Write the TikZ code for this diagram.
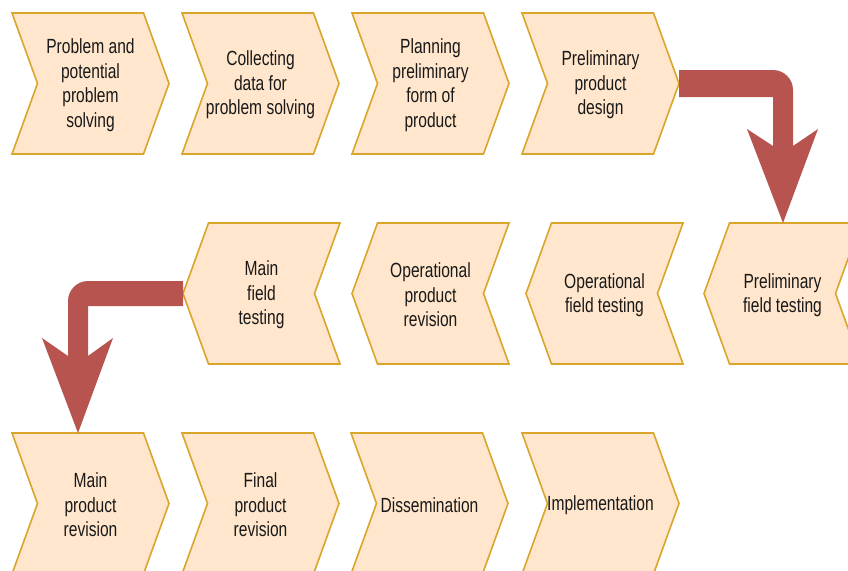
\documentclass[tikz,border=0pt]{standalone}
\usepackage{fontspec}
\setmainfont{Liberation Sans}[FakeStretch=0.76]
\usetikzlibrary{calc}

\definecolor{chevfill}{HTML}{FFE6CC}
\definecolor{chevline}{HTML}{D9A52B}
\definecolor{flowred}{HTML}{B85450}

\tikzset{
  chev/.style={fill=chevfill, draw=chevline, line width=1.6pt, line join=miter},
  lbl/.style={align=center, inner sep=0pt, text=black!90,
              font=\fontsize{20.5}{24.5}\selectfont},
  flow/.style={fill=flowred}
}

% chevron pointing right: name, left x, top y, label
\newcommand{\chevfwd}[4]{%
  \draw[chev] (#2,#3) -- ++(131.5,0) -- ++(25.5,70.5) -- ++(-25.5,70.5)
              -- ++(-131.5,0) -- ++(25.5,-70.5) -- cycle;
  \node[lbl] (#1) at (#2+78.5,#3+72) {#4};
  \coordinate (#1-tip) at (#2+157,#3+70.5);
}
% chevron pointing left: name, tip x, top y, label
\newcommand{\chevback}[4]{%
  \draw[chev] (#2,#3+70.5) -- (#2+25.5,#3) -- ++(131.5,0) -- ++(-25.5,70.5)
              -- ++(25.5,70.5) -- ++(-131.5,0) -- cycle;
  \node[lbl] (#1) at (#2+78.5,#3+72) {#4};
  \coordinate (#1-tip) at (#2,#3+70.5);
}

\begin{document}
\begin{tikzpicture}[x=1pt,y=-1pt]
  \useasboundingbox (0,0) rectangle (848,570);
  \clip (0,0) rectangle (848,570);
  \fill[white] (0,0) rectangle (848,570);

  % first row, left to right
  \chevfwd{c1}{12}{13}{Problem and\\potential\\problem\\solving}
  \chevfwd{c2}{182}{13}{Collecting\\data for\\problem solving}
  \chevfwd{c3}{352}{13}{Planning\\preliminary\\form of\\product}
  \chevfwd{c4}{522}{13}{Preliminary\\product\\design}

  % second row, right to left
  \chevback{c5}{183}{223}{Main\\field\\testing}
  \chevback{c6}{352}{223}{Operational\\product\\revision}
  \chevback{c7}{526}{223}{Operational\\field testing}
  \chevback{c8}{704}{223}{Preliminary\\field testing}

  % third row, left to right
  \chevfwd{c9}{12}{433}{Main\\product\\revision}
  \chevfwd{c10}{182}{433}{Final\\product\\revision}
  \chevfwd{c11}{351}{433}{Dissemination}
  \chevfwd{c12}{522}{433}{Implementation}

  % arrow ends on the top edges of the next row
  \coordinate (e1) at (783,223);
  \coordinate (e2) at (78,433);
  \coordinate (k1) at (c4-tip -| e1);
  \coordinate (k2) at (c5-tip -| e2);

  % bent arrow from the first row down to the second
  \fill[flow] ($(c4-tip)+(0,-13.5)$) -- ($(k1)+(-10,-13.5)$)
    .. controls ($(k1)+(1,-13.5)$) and ($(k1)+(10,-4.5)$) .. ($(k1)+(10,6.5)$)
    -- ($(e1)+(10,-77)$) -- ($(e1)+(35,-94)$) -- (e1)
    -- ($(e1)+(-36,-94)$) -- ($(e1)+(-10,-77)$)
    -- ($(k1)+(-10,13.5)$) -- ($(c4-tip)+(0,13.5)$) -- cycle;

  % bent arrow from the second row down to the third
  \fill[flow] ($(c5-tip)+(0,-12.5)$) -- ($(k2)+(10,-12.5)$)
    .. controls ($(k2)+(-1,-12.5)$) and ($(k2)+(-10,-3.5)$) .. ($(k2)+(-10,7.5)$)
    -- ($(e2)+(-10,-77)$) -- ($(e2)+(-36,-95)$) -- (e2)
    -- ($(e2)+(35,-95)$) -- ($(e2)+(10,-77)$)
    -- ($(k2)+(10,12.5)$) -- ($(c5-tip)+(0,12.5)$) -- cycle;
\end{tikzpicture}
\end{document}
